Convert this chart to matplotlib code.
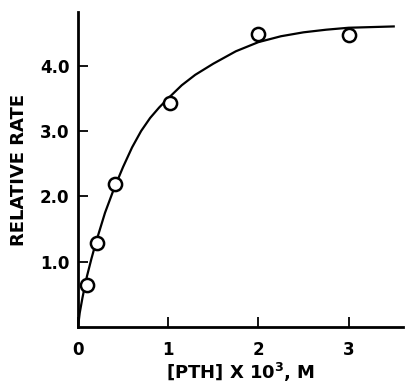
import matplotlib.pyplot as plt

# --- data ---
pth_conc = [0.10, 0.21, 0.41, 1.02, 2.0, 3.0]
rel_rate = [0.65, 1.29, 2.19, 3.43, 4.48, 4.47]

# fitted curve, traced by eye
curve_x = [0, 0.02, 0.05, 0.1, 0.15, 0.2, 0.3, 0.4, 0.5, 0.6, 0.7, 0.8, 0.9, 1.0,
           1.15, 1.3, 1.5, 1.75, 2.0, 2.25, 2.5, 2.75, 3.0, 3.25, 3.5]
curve_y = [0, 0.22, 0.45, 0.78, 1.05, 1.3, 1.75, 2.12, 2.45, 2.75, 3.0, 3.2, 3.36, 3.5,
           3.7, 3.86, 4.03, 4.22, 4.36, 4.45, 4.51, 4.55, 4.58, 4.59, 4.6]

x_ticks = [0, 1, 2, 3]
x_ticklabels = ["0", "1", "2", "3"]
y_ticks = [1.0, 2.0, 3.0, 4.0]
y_ticklabels = ["1.0", "2.0", "3.0", "4.0"]

plt.rcParams['font.family'] = ['DejaVu Sans']
plt.rcParams['font.weight'] = 'bold'

fig = plt.figure(figsize=(4.06, 3.89), dpi=100)
ax = fig.add_axes([0.192, 0.159, 0.80, 0.81])

ax.plot(curve_x, curve_y, color='black', lw=1.6, zorder=2)
ax.plot(pth_conc, rel_rate, 'o', mfc='white', mec='black', ms=9.5, mew=1.8, zorder=3)

ax.set_xlim(0, 3.6)
ax.set_ylim(0, 4.82)
ax.spines['top'].set_visible(False)
ax.spines['right'].set_visible(False)
for s in ('left', 'bottom'):
    ax.spines[s].set_linewidth(2)

ax.set_xticks(x_ticks)
ax.set_xticklabels(x_ticklabels, fontsize=12, fontweight='bold')
ax.set_yticks(y_ticks)
ax.set_yticklabels(y_ticklabels, fontsize=12, fontweight='bold')
ax.tick_params(direction='in', length=7, width=1.3)
ax.tick_params(axis='x', pad=10)
ax.tick_params(axis='y', pad=6)

ax.set_xlabel("[PTH] X 10$^\\mathbf{3}$, M", fontsize=13, fontweight='bold', labelpad=1)
ax.set_ylabel("RELATIVE RATE", fontsize=13, fontweight='bold', labelpad=9)

fig.savefig("out.png", dpi=100)
